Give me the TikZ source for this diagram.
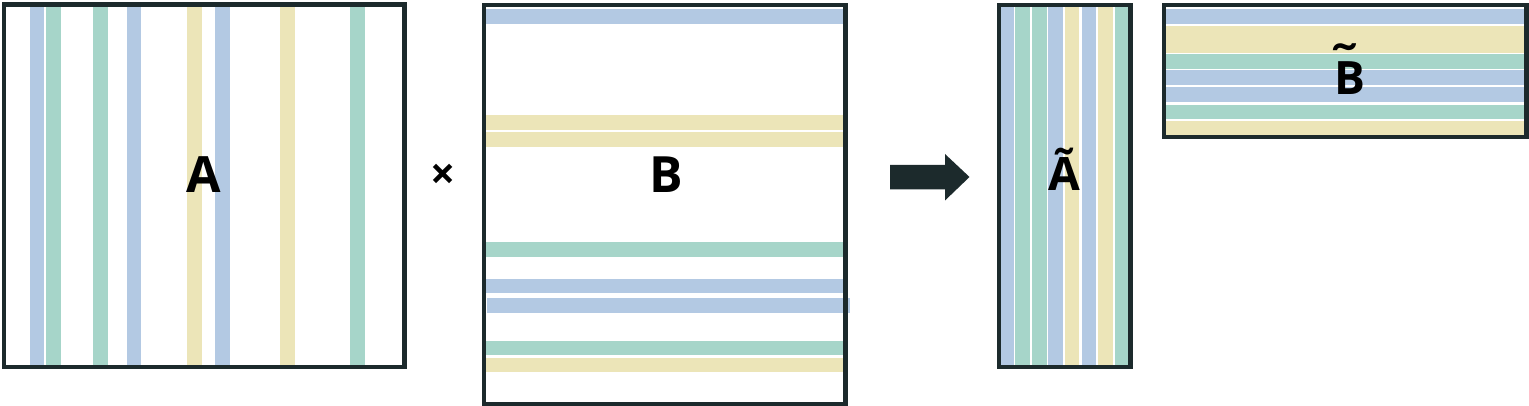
\documentclass[tikz,border=0pt]{standalone}
\usepackage{fontspec}
\usepackage{graphicx}
\setmainfont{Open Sans}
\definecolor{sblue}{HTML}{B3C9E3}
\definecolor{sgreen}{HTML}{A6D5C9}
\definecolor{syellow}{HTML}{ECE5B8}
\definecolor{frame}{HTML}{1C2A2C}
\tikzset{
  framebox/.style={draw=frame, line width=4.3pt, inner sep=0pt, outer sep=0pt, anchor=north west},
  lbl/.style={font=\fontsize{50}{50}\selectfont\bfseries, inner sep=0pt, anchor=base},
  tlbl/.style={lbl, font=\fontsize{46}{46}\selectfont\bfseries},
}
\newcommand{\captilde}[1]{\ooalign{#1\cr\hidewidth\kern-0.22em\raisebox{0.36em}{\scalebox{1.25}[1]{˜}}\hidewidth\cr}}
\begin{document}
\begin{tikzpicture}[x=1pt,y=-1pt]
\useasboundingbox (0,0) rectangle (1529,406);
% ---- Matrix A (columns)
\foreach \a/\b/\c in {30/44/sblue,46/61/sgreen,93/108/sgreen,127/141/sblue,187/202/syellow,215/230/sblue,280/295/syellow,350/365/sgreen}
  \fill[\c] (\a,4) rectangle (\b,367);
\node[framebox, minimum width=400.5pt, minimum height=362.5pt] (A) at (4,4.5) {};
\node[lbl] (Alab) at (204,193) {A};
% ---- multiplication sign
\node[inner sep=0pt, font=\fontsize{44}{44}\selectfont\bfseries] (times) at (443,177) {×};
% ---- Matrix B (rows)
\foreach \a/\b/\c in {9/24/sblue,115/130/syellow,132/147/syellow,242/257/sgreen,279/293/sblue,341/355/sgreen,358/372/syellow}
  \fill[\c] (484,\a) rectangle (845.5,\b);
\fill[sblue] (487,298) rectangle (850,313);
\node[framebox, minimum width=361.5pt, minimum height=399.3pt] (B) at (484,4.7) {};
\node[lbl] (Blab) at (666,193) {B};
% ---- arrow
\fill[frame] (890,165) -- (945,165) -- (945,154) -- (969.5,177) -- (945,200.5) -- (945,189.3) -- (890,189.3) -- cycle;
% ---- Matrix A tilde
\foreach \a/\b/\c in {1001/1014/sblue,1015.3/1030/sgreen,1032/1046.7/sgreen,1048/1063/sblue,1065/1079/syellow,1082/1096/sblue,1098/1112.7/syellow,1115/1128/sgreen}
  \fill[\c] (\a,4) rectangle (\b,367);
\node[framebox, minimum width=131.5pt, minimum height=362.3pt] (At) at (999,4.7) {};
\node[tlbl] (Atlab) at (1064.7,191) {Ã};
% ---- Matrix B tilde
\foreach \a/\b/\c in {9/24/sblue,25.7/53.3/syellow,54/69/sgreen,70/85/sblue,87/102/sblue,105/119/sgreen,121/135/syellow}
  \fill[\c] (1164,\a) rectangle (1526.5,\b);
\node[framebox, minimum width=362.5pt, minimum height=132.3pt] (Bt) at (1164,4.7) {};
\node[tlbl] (Btlab) at (1350,95) {\captilde{B}};
\end{tikzpicture}
\end{document}
